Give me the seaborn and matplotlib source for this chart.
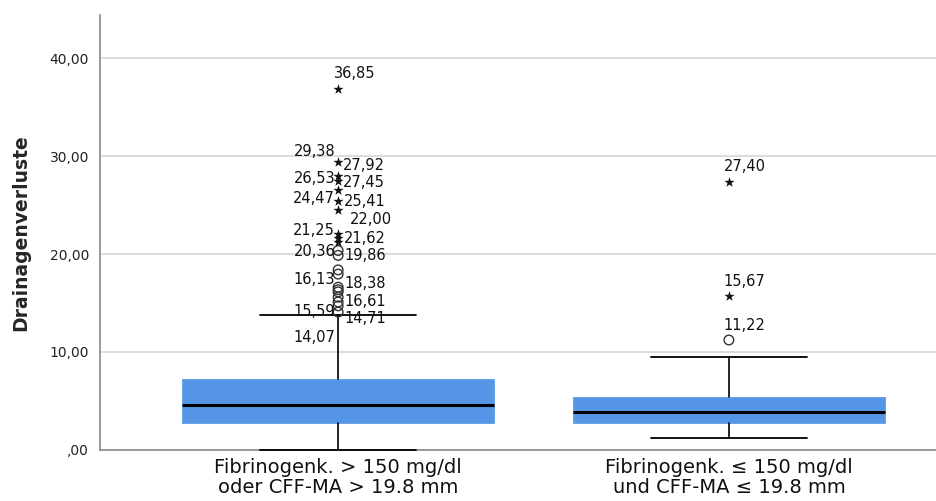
import numpy as np
import pandas as pd
import matplotlib
matplotlib.use("Agg")
import matplotlib.pyplot as plt
import seaborn as sns

# Data
groups = ["Fibrinogenk. > 150 mg/dl\noder CFF-MA > 19.8 mm",
          "Fibrinogenk. \u2264 150 mg/dl\nund CFF-MA \u2264 19.8 mm"]
q1 = [2.79, 2.76]
median = [4.59, 3.90]
q3 = [7.21, 5.40]
whisker_low = [0.00, 1.19]
whisker_high = [13.80, 9.52]

# outliers (circles) and extreme values (stars)
g1_mild = [20.36, 19.86, 18.38, 17.95, 16.61, 16.35, 16.13, 15.59, 15.10, 14.71, 14.07]
g1_extreme = [36.85, 29.38, 27.92, 27.45, 26.53, 25.41, 24.47, 22.00, 21.62, 21.25]
g2_mild = [11.22]
g2_extreme = [27.40, 15.67]

# values that carry a label in the original
g1_labels = [36.85, 29.38, 27.92, 27.45, 26.53, 25.41, 24.47, 22.00, 21.62, 21.25,
             20.36, 19.86, 18.38, 16.61, 16.13, 15.59, 14.71, 14.07]
g2_labels = [27.40, 15.67, 11.22]

# label placement (dx px, dy px, ha) for the first group, same order as g1_labels
g1_label_pos = [(-4, 15, "left"), (-3, 11, "right"), (5, 11, "left"), (5, -1, "left"),
                (-3, 12, "right"), (6, 0, "left"), (-3, 12, "right"), (12, 15, "left"),
                (6, 0, "left"), (-3, 11, "right"), (-3, -1, "right"), (6, 0, "left"),
                (6, -14, "left"), (6, -14, "left"), (-3, 12, "right"), (-3, -14, "right"),
                (6, -13, "left"), (-3, -25, "right")]

box_color = "#5596E6"

sns.set_style("white")
plt.rcParams["font.family"] = ["DejaVu Sans"]

fig = plt.figure(figsize=(9.36, 5.01), dpi=100)
ax = fig.add_axes([0.107, 0.102, 0.893, 0.868])

stats = []
for i in range(len(groups)):
    stats.append(dict(med=median[i], q1=q1[i], q3=q3[i],
                      whislo=whisker_low[i], whishi=whisker_high[i],
                      fliers=[], label=groups[i]))

parts = ax.bxp(stats, positions=[0, 1], widths=0.8, capwidths=0.4,
               patch_artist=True, showfliers=False,
               boxprops=dict(facecolor=box_color, edgecolor=box_color, lw=0.5),
               medianprops=dict(color="black", lw=2.2),
               whiskerprops=dict(color="black", lw=1.2),
               capprops=dict(color="black", lw=1.3))
for cap in parts["caps"]:
    cap.set_zorder(3)
    cap.set_clip_on(False)

out = pd.DataFrame({
    "pos": [0] * len(g1_mild) + [1] * len(g2_mild) + [0] * len(g1_extreme) + [1] * len(g2_extreme),
    "value": g1_mild + g2_mild + g1_extreme + g2_extreme,
    "kind": ["mild"] * (len(g1_mild) + len(g2_mild)) + ["extreme"] * (len(g1_extreme) + len(g2_extreme)),
})

sns.scatterplot(data=out[out["kind"] == "mild"], x="pos", y="value", ax=ax,
                marker="o", s=48, facecolor="none", edgecolor="#333333",
                linewidth=1.0, zorder=4, legend=False)
sns.scatterplot(data=out[out["kind"] == "extreme"], x="pos", y="value", ax=ax,
                marker="*", s=60, color="#111111", linewidth=0, zorder=4, legend=False)

for v, (dx, dy, ha) in zip(g1_labels, g1_label_pos):
    ax.annotate(f"{v:.2f}".replace(".", ","), xy=(0, v), xytext=(dx, dy),
                textcoords="offset pixels", ha=ha, va="center", fontsize=10.5,
                color="#111111", zorder=5)
for v in g2_labels:
    ax.annotate(f"{v:.2f}".replace(".", ","), xy=(1, v), xytext=(-5, 15),
                textcoords="offset pixels", ha="left", va="center", fontsize=10.5,
                color="#111111", zorder=5)

ax.set_xlim(-0.609, 1.53)
ax.set_ylim(0, 44.4)
ax.set_yticks([0, 10, 20, 30, 40])
ax.set_yticklabels([f"{t:.2f}".replace(".", ",").lstrip("0") if t == 0 else f"{t:.2f}".replace(".", ",")
                    for t in [0, 10, 20, 30, 40]], fontsize=10, color="#222222")
ax.set_xticks([0, 1])
ax.set_xticklabels(groups, fontsize=14, color="#111111", linespacing=1.05)
ax.tick_params(axis="y", length=0, pad=8)
ax.tick_params(axis="x", length=0, pad=6)

ax.grid(axis="y", color="#d9d9d9", lw=1.3, zorder=0)
ax.set_axisbelow(True)
for side in ["top", "right"]:
    ax.spines[side].set_visible(False)
ax.spines["left"].set_color("#888888")
ax.spines["bottom"].set_color("#888888")
ax.spines["left"].set_linewidth(1.2)
ax.spines["bottom"].set_linewidth(1.2)

ax.set_xlabel("")
ax.set_ylabel("Drainagenverluste", fontsize=13.5, fontweight="bold", labelpad=14)

fig.savefig("out.png", dpi=100)
